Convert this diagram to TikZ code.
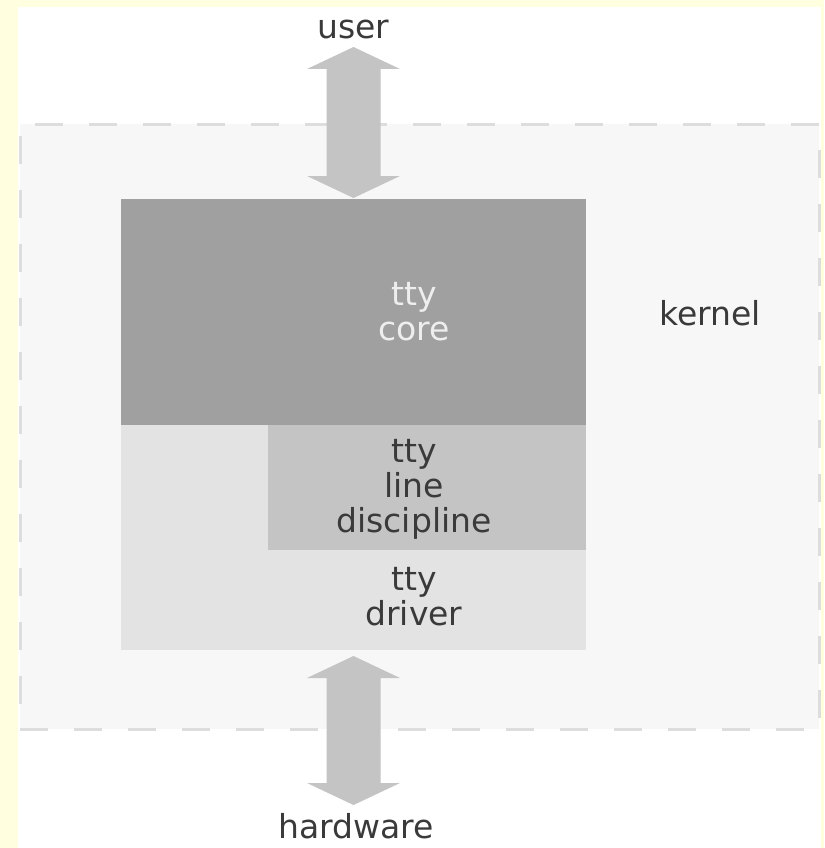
\documentclass[tikz,border=0pt]{standalone}
\usepackage{fontspec}
\setmainfont{DejaVu Sans}
\definecolor{pagetint}{HTML}{FFFFE0}
\definecolor{kernelfill}{HTML}{F7F7F7}
\definecolor{kernelrule}{HTML}{DDDDDD}
\definecolor{corefill}{HTML}{A0A0A0}
\definecolor{ldiscfill}{HTML}{C4C4C4}
\definecolor{driverfill}{HTML}{E3E3E3}
\definecolor{conduitfill}{HTML}{C4C4C4}
\definecolor{inktext}{HTML}{3A3A3A}
\definecolor{coretext}{HTML}{EEEEEE}
\tikzset{
  lbl/.style={font=\fontsize{33}{35}\selectfont, text=inktext, inner sep=0pt, align=center},
  layer/.style={inner sep=0pt, outer sep=0pt, rectangle},
  conduit/.style={fill=conduitfill},
}
\begin{document}
\begin{tikzpicture}[x=1pt,y=-1pt]
% page and margins
\fill[pagetint] (0,0) rectangle (824,848);
\fill[white] (18,7) rectangle (821,848);
\useasboundingbox (0,0) rectangle (824,848);

% kernel region
\node[layer, fill=kernelfill, draw=kernelrule, line width=3pt,
      dash pattern=on 28pt off 26pt, minimum width=799pt, minimum height=604.5pt]
      (kernel) at (419.5,426.75) {};
\node[lbl, anchor=base] (kernellbl) at (710,325) {kernel};

% tty layers
\node[layer, fill=corefill, minimum width=465pt, minimum height=226pt] (core) at (353.5,312) {};
\node[layer, fill=driverfill, minimum width=465pt, minimum height=225pt] (driver) at (353.5,537.5) {};
\node[layer, fill=ldiscfill, minimum width=318pt, minimum height=125pt] (ldisc) at (427,487.5) {};

% labels, placed by the baseline of their last line
\node[lbl, text=coretext, anchor=base] (corelbl) at (414,340) {tty\\core};
\node[lbl, anchor=base] (ldisclbl) at (414,532) {tty\\line\\discipline};
\node[lbl, anchor=base] (driverlbl) at (414,625) {tty\\driver};

% outer endpoints
\node[lbl, anchor=base] (user) at (353.5,39) {user};
\node[lbl, anchor=base] (hw) at (356,838) {hardware};

% two-way conduits
\coordinate (utip) at (user.base |- 0,47);
\coordinate (htip) at (core.south |- 0,656);
\fill[conduit] (utip) -- ++(46.5,22) -- ++(-19.5,0) -- ++(0,107) -- ++(19.5,0)
  -- ++(-46.5,22) -- ++(-46.5,-22) -- ++(19.5,0) -- ++(0,-107) -- ++(-19.5,0) -- cycle;
\fill[conduit] (htip) -- ++(46.5,22) -- ++(-19.5,0) -- ++(0,105) -- ++(19.5,0)
  -- ++(-46.5,22) -- ++(-46.5,-22) -- ++(19.5,0) -- ++(0,-105) -- ++(-19.5,0) -- cycle;
\end{tikzpicture}
\end{document}
